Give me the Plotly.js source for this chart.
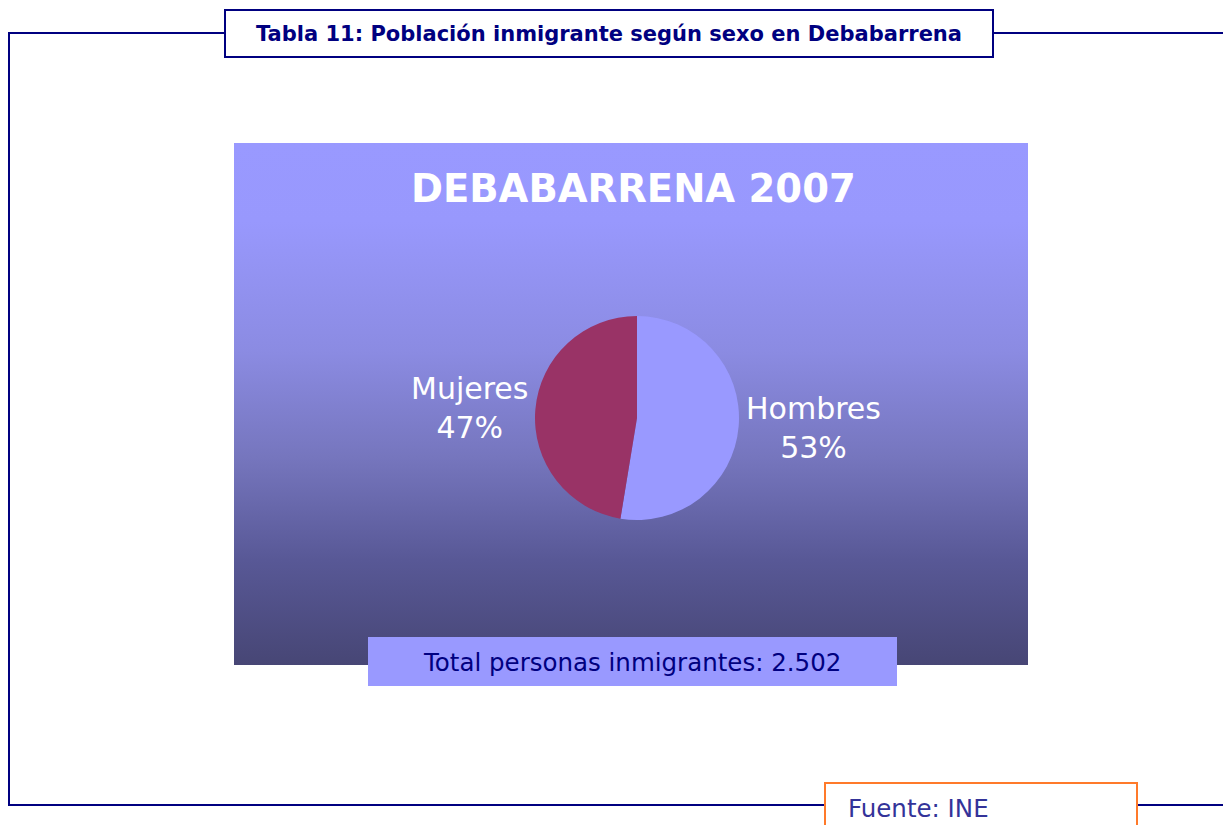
<!DOCTYPE html>
<html>
<head>
<meta charset="utf-8">
<script src="https://cdn.plot.ly/plotly-3.0.1.min.js"></script>
<style>
  html, body { margin: 0; padding: 0; background: #ffffff; }
  #chart { width: 1223px; height: 825px; }
</style>
</head>
<body>
<div id="chart"></div>
<script>
// ---- Data ----
const categories = ['Hombres', 'Mujeres'];
const values = [1316, 1186];
const sliceColors = ['#9999FF', '#993366'];
const chartTitle = 'DEBABARRENA 2007';
const tableTitle = 'Tabla 11: Población inmigrante según sexo en Debabarrena';
const totalPrefix = 'Total personas inmigrantes: ';
const sourceText = 'Fuente: INE';

// ---- Helpers ----
const W = 1223, H = 825;
const px = x => x / W;
const py = y => 1 - y / H;
const total = values.reduce((a, b) => a + b, 0);
const totalText = total.toString().replace(/\B(?=(\d{3})+(?!\d))/g, '.');

// gradient background image
const gradSvg = '<svg xmlns="http://www.w3.org/2000/svg" width="794" height="522" preserveAspectRatio="none">' +
  '<defs><linearGradient id="g" x1="0" y1="0" x2="0" y2="1">' +
  '<stop offset="0" stop-color="#9999FF"/>' +
  '<stop offset="0.15" stop-color="#9898FD"/>' +
  '<stop offset="0.40" stop-color="#8B8BE2"/>' +
  '<stop offset="0.60" stop-color="#7676BE"/>' +
  '<stop offset="0.80" stop-color="#585896"/>' +
  '<stop offset="1" stop-color="#474675"/>' +
  '</linearGradient></defs><rect width="794" height="522" fill="url(#g)"/></svg>';
const gradSrc = 'data:image/svg+xml;base64,' + btoa(gradSvg);

// pie geometry
const cx = 637, cy = 418, r = 102;
const FONT = 'DejaVu Sans, Verdana, sans-serif';

const trace = {
  type: 'pie',
  labels: categories,
  values: values,
  sort: false,
  direction: 'clockwise',
  rotation: 0,
  marker: { colors: sliceColors, line: { width: 0 } },
  textinfo: 'none',
  hoverinfo: 'none',
  showlegend: false,
  automargin: false,
  domain: { x: [px(cx - r), px(cx + r)], y: [py(cy + r), py(cy - r)] }
};

// slice labels placed just outside the pie at each slice's mid-angle
const sliceLabels = [];
let cum = 0;
categories.forEach((c, i) => {
  const frac = values[i] / total;
  const mid = (cum + frac / 2) * 2 * Math.PI; // clockwise from 12 o'clock
  cum += frac;
  const d = r + 5;
  const lx = cx + d * Math.sin(mid);
  const ly = cy - (r + 20) * Math.cos(mid);
  sliceLabels.push({
    text: c + '<br>' + Math.round(frac * 100) + '%',
    xref: 'paper', yref: 'paper', x: px(lx), y: py(ly),
    xanchor: Math.sin(mid) >= 0 ? 'left' : 'right', yanchor: 'middle', align: 'center',
    showarrow: false, font: { family: FONT, size: 30, color: '#ffffff' }
  });
});

const navy = '#000080';
const shapes = [
  { type: 'line', xref: 'paper', yref: 'paper', x0: px(9), x1: px(225), y0: py(33), y1: py(33), line: { color: navy, width: 2 } },
  { type: 'line', xref: 'paper', yref: 'paper', x0: px(993), x1: px(1223), y0: py(33), y1: py(33), line: { color: navy, width: 2 } },
  { type: 'line', xref: 'paper', yref: 'paper', x0: px(9), x1: px(9), y0: py(32), y1: py(806), line: { color: navy, width: 2 } },
  { type: 'line', xref: 'paper', yref: 'paper', x0: px(8), x1: px(825), y0: py(805), y1: py(805), line: { color: navy, width: 2 } },
  { type: 'line', xref: 'paper', yref: 'paper', x0: px(1137), x1: px(1223), y0: py(805), y1: py(805), line: { color: navy, width: 2 } },
  { type: 'rect', xref: 'paper', yref: 'paper', x0: px(225), x1: px(993), y0: py(10), y1: py(57), fillcolor: '#ffffff', line: { color: navy, width: 2 } },
  { type: 'rect', xref: 'paper', yref: 'paper', x0: px(368), x1: px(897), y0: py(637), y1: py(686), fillcolor: '#9999FF', line: { width: 0 }, layer: 'above' },
  { type: 'rect', xref: 'paper', yref: 'paper', x0: px(825), x1: px(1137), y0: py(783), y1: py(840), fillcolor: '#ffffff', line: { color: '#FF7A2A', width: 2 } }
];

const annotations = [
  { text: '<b>' + tableTitle + '</b>', xref: 'paper', yref: 'paper', x: px(609), y: py(34), xanchor: 'center', yanchor: 'middle', showarrow: false,
    font: { family: FONT, size: 21, color: navy } },
  { text: '<b>' + chartTitle + '</b>', xref: 'paper', yref: 'paper', x: px(633), y: py(188), xanchor: 'center', yanchor: 'middle', showarrow: false,
    font: { family: FONT, size: 38.5, color: '#ffffff' } },
  { text: totalPrefix + totalText, xref: 'paper', yref: 'paper', x: px(632), y: py(662), xanchor: 'center', yanchor: 'middle', showarrow: false,
    font: { family: FONT, size: 24.5, color: navy } },
  { text: sourceText, xref: 'paper', yref: 'paper', x: px(846), y: py(808), xanchor: 'left', yanchor: 'middle', showarrow: false,
    font: { family: FONT, size: 24.5, color: '#333399' } }
].concat(sliceLabels);

const layout = {
  width: W, height: H,
  margin: { l: 0, r: 0, t: 0, b: 0, pad: 0 },
  paper_bgcolor: '#ffffff',
  plot_bgcolor: 'rgba(0,0,0,0)',
  showlegend: false,
  images: [{ source: gradSrc, xref: 'paper', yref: 'paper', x: px(234), y: py(143), sizex: (1028 - 234) / W, sizey: (665 - 143) / H,
    sizing: 'stretch', xanchor: 'left', yanchor: 'top', layer: 'below' }],
  shapes: shapes,
  annotations: annotations
};

Plotly.newPlot('chart', [trace], layout, { displayModeBar: false, staticPlot: true });
</script>
</body>
</html>
